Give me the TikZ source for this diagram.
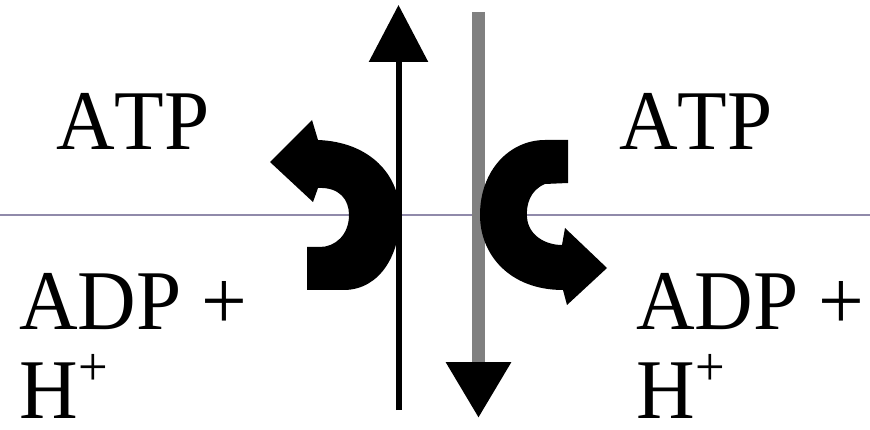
\documentclass[tikz,border=0pt]{standalone}
\usepackage{fontspec}
\setmainfont[Kerning=Off,FakeStretch=0.955]{Liberation Serif}
\usetikzlibrary{arrows.meta}
\definecolor{midline}{RGB}{144,138,170}
\definecolor{axisgray}{RGB}{128,128,128}
\tikzset{
  lbl/.style={anchor=base west, inner sep=0pt, font=\fontsize{85}{85}\selectfont},
  upaxis/.style={line width=6pt, black, -{Triangle[width=58pt,length=57pt]}},
  downaxis/.style={line width=13pt, axisgray, -{Triangle[width=62pt,length=56pt,color=black]}},
  bendarrow/.style={fill=black, draw=none},
}
\newcommand{\hplus}{H\kern1pt\raisebox{33pt}{\fontsize{55}{55}\selectfont +}}
\begin{document}
\begin{tikzpicture}[x=1pt,y=-1pt]
\useasboundingbox (0,0) rectangle (870,430);
% membrane line
\coordinate (ml) at (0,215);
\coordinate (mr) at (870,215);
\draw[midline, line width=1.3pt] (ml) -- (mr);
% vertical axes
\coordinate (up0) at (398.5,410);
\coordinate (up1) at (398.5,5);
\draw[upaxis] (up0) -- (up1);
\coordinate (dn0) at (478.5,12);
\coordinate (dn1) at (478.5,418);
\draw[downaxis] (dn0) -- (dn1);
% left curved arrow
\fill[bendarrow] (307,247) -- (307,290) -- (345,290)
  .. controls (380,289) and (400,255) .. (400,215)
  .. controls (400,175) and (370,142) .. (318,140)
  -- (312,120) -- (270,162) -- (313,202) -- (318,188)
  .. controls (340,187) and (349,200) .. (349,215)
  .. controls (349,235) and (335,247) .. (320,247) -- cycle;
% right curved arrow
\fill[bendarrow] (568,140) -- (568,183) -- (545,184)
  .. controls (530,190) and (526,205) .. (527,217)
  .. controls (528,235) and (545,245) .. (562,245)
  -- (565,228) -- (607,268) -- (567,305) -- (563,290)
  .. controls (510,290) and (480,255) .. (480,215)
  .. controls (480,170) and (510,140) .. (545,140) -- cycle;
% labels
\node[lbl] (atpL) at (56,150) {ATP};
\node[lbl] (atpR) at (619,150) {ATP};
\node[lbl] (adpL) at (19,330) {ADP +};
\node[lbl] (hL) at (19,418) {\hplus};
\node[lbl] (adpR) at (636,330) {ADP +};
\node[lbl] (hR) at (636,418) {\hplus};
\end{tikzpicture}
\end{document}
